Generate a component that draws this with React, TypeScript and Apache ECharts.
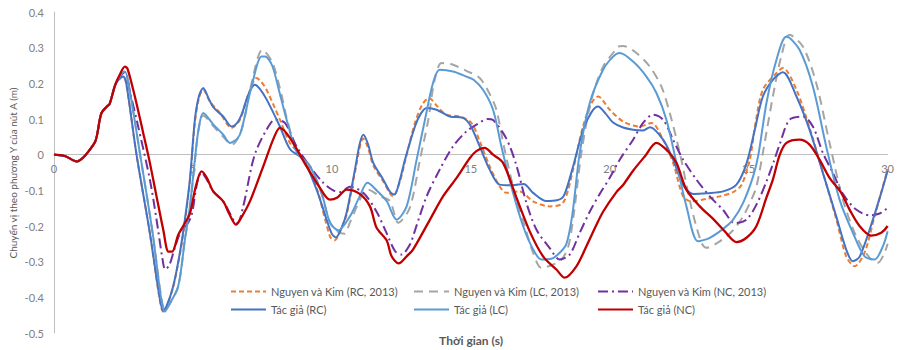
import React, { useEffect, useRef } from "react";
import * as echarts from "echarts";

const seriesNames = [
  "Nguyen và Kim (RC, 2013)",
  "Nguyen và Kim (LC, 2013)",
  "Nguyen và Kim (NC, 2013)",
  "Tác giả (RC)",
  "Tác giả (LC)",
  "Tác giả (NC)",
];

const xTicks = [0, 5, 10, 15, 20, 25, 30];
const yTicks = [-0.5, -0.4, -0.3, -0.2, -0.1, 0, 0.1, 0.2, 0.3, 0.4];

// common start (all curves coincide)
const common: number[][] = [
  [0, 0], [0.4, -0.004], [0.82, -0.019], [1.05, -0.008], [1.25, 0.01], [1.5, 0.04],
  [1.7, 0.115], [1.9, 0.135], [2.0, 0.142], [2.2, 0.195],
];

const nkRC: number[][] = [
  ...common,
  [2.35, 0.212], [2.49, 0.22], [2.6, 0.2], [2.97, 0.0], [3.45, -0.22], [3.8, -0.405], [3.93, -0.44],
  [4.05, -0.428], [4.29, -0.37], [4.53, -0.28], [4.71, -0.19], [4.89, -0.075], [5.07, 0.09], [5.22, 0.16],
  [5.37, 0.182], [5.61, 0.149], [5.97, 0.117], [6.39, 0.075], [6.69, 0.098], [7.0, 0.17], [7.29, 0.215],
  [7.45, 0.205], [7.65, 0.182], [8.13, 0.098], [8.49, 0.033], [8.97, -0.01], [9.45, -0.093], [9.93, -0.229],
  [10.1, -0.24], [10.3, -0.215], [10.53, -0.168], [10.83, -0.05], [11.13, 0.045], [11.3, 0.02], [11.49, -0.03],
  [11.85, -0.075], [12.2, -0.117], [12.45, -0.075], [12.63, -0.02], [12.99, 0.089], [13.25, 0.14], [13.5, 0.159],
  [13.8, 0.135], [14.12, 0.112], [14.6, 0.107], [15.02, 0.089], [15.32, 0.038], [15.68, -0.033], [16.04, -0.089],
  [16.28, -0.107], [16.76, -0.103], [17.24, -0.131], [17.84, -0.145], [18.32, -0.135], [18.68, -0.042],
  [19.04, 0.08], [19.35, 0.145], [19.58, 0.163], [20.0, 0.126], [20.48, 0.093], [21.08, 0.079], [21.5, 0.089],
  [21.92, 0.042], [22.28, -0.023], [22.64, -0.117], [22.93, -0.131], [23.48, -0.124], [23.96, -0.117],
  [24.44, -0.105], [24.74, -0.085], [25.04, -0.014], [25.25, 0.09], [25.51, 0.182], [26.0, 0.229], [26.23, 0.243],
  [26.72, 0.182], [27.19, 0.075], [27.67, -0.05], [28.15, -0.18], [28.51, -0.285], [28.81, -0.313],
  [29.17, -0.275], [29.53, -0.173], [29.83, -0.089], [30, -0.04],
];

const nkLC: number[][] = [
  ...common,
  [2.35, 0.218], [2.55, 0.233], [2.7, 0.19], [3.1, 0.0], [3.55, -0.22], [3.85, -0.395], [3.99, -0.435],
  [4.15, -0.42], [4.47, -0.37], [4.71, -0.24], [4.89, -0.15], [5.07, -0.02], [5.2, 0.07], [5.37, 0.11],
  [5.73, 0.08], [6.09, 0.05], [6.4, 0.028], [6.75, 0.07], [7.11, 0.2], [7.5, 0.294], [7.85, 0.26],
  [8.15, 0.18], [8.4, 0.095], [8.75, 0.01], [9.2, -0.03], [9.63, -0.11], [9.93, -0.19], [10.2, -0.215],
  [10.45, -0.222], [10.65, -0.19], [11.13, -0.107], [11.3, -0.098], [11.73, -0.117], [12.09, -0.13],
  [12.39, -0.191], [12.8, -0.15], [13.17, -0.014], [13.47, 0.098], [13.7, 0.21], [13.95, 0.257], [14.36, 0.252],
  [14.84, 0.235], [15.32, 0.215], [15.68, 0.17], [15.92, 0.126], [16.2, 0.02], [16.58, -0.107], [16.94, -0.2],
  [17.24, -0.275], [17.54, -0.317], [17.9, -0.31], [18.26, -0.294], [18.5, -0.26], [18.7, -0.17], [18.98, 0.005],
  [19.34, 0.154], [19.76, 0.247], [20.12, 0.285], [20.3, 0.303], [20.48, 0.305], [20.96, 0.285], [21.44, 0.247],
  [21.86, 0.191], [22.16, 0.117], [22.52, 0.005], [22.93, -0.145], [23.3, -0.247], [23.48, -0.261],
  [23.96, -0.243], [24.44, -0.212], [24.8, -0.173], [25.1, -0.126], [25.28, -0.089], [25.51, 0.005],
  [25.87, 0.163], [26.17, 0.275], [26.47, 0.336], [26.95, 0.303], [27.43, 0.201], [27.91, 0.033],
  [28.39, -0.126], [28.87, -0.229], [29.35, -0.289], [29.65, -0.303], [29.89, -0.275], [30, -0.25],
];

const nkNC: number[][] = [
  ...common,
  [2.35, 0.218], [2.55, 0.232], [2.75, 0.17], [3.0, 0.089], [3.45, -0.07], [3.69, -0.182], [3.9, -0.29],
  [4.0, -0.322], [4.15, -0.31], [4.35, -0.26], [4.59, -0.21], [4.75, -0.2], [4.95, -0.17], [5.15, -0.08],
  [5.31, -0.05], [5.5, -0.07], [5.73, -0.103], [6.09, -0.131], [6.51, -0.19], [6.6, -0.192], [6.81, -0.145],
  [7.11, -0.033], [7.29, 0.014], [7.65, 0.07], [7.95, 0.098], [8.31, 0.089], [8.73, 0.023], [9.21, -0.033],
  [9.69, -0.079], [10.05, -0.1], [10.3, -0.105], [10.65, -0.09], [11.13, -0.107], [11.61, -0.16],
  [11.97, -0.22], [12.27, -0.27], [12.5, -0.28], [12.81, -0.252], [13.0, -0.21], [13.41, -0.117],
  [13.88, -0.042], [14.36, 0.023], [14.84, 0.065], [15.2, 0.084], [15.6, 0.1], [15.8, 0.097], [16.28, 0.045],
  [16.64, -0.03], [17.0, -0.135], [17.36, -0.21], [17.84, -0.262], [18.2, -0.294], [18.56, -0.28],
  [18.92, -0.219], [19.28, -0.16], [19.64, -0.11], [20.0, -0.065], [20.36, -0.014], [20.84, 0.042],
  [21.2, 0.089], [21.56, 0.112], [21.92, 0.098], [22.28, 0.042], [22.64, -0.014], [23.12, -0.07],
  [23.6, -0.117], [24.08, -0.155], [24.5, -0.192], [24.92, -0.182], [25.28, -0.14], [25.64, -0.075],
  [25.9, -0.02], [26.12, 0.03], [26.47, 0.098], [26.95, 0.107], [27.31, 0.079], [27.67, 0.005],
  [28.03, -0.051], [28.39, -0.11], [28.87, -0.154], [29.35, -0.17], [29.71, -0.165], [30, -0.149],
];

const tgRC: number[][] = [
  ...common,
  [2.35, 0.212], [2.49, 0.219], [2.6, 0.2], [2.97, 0.0], [3.45, -0.22], [3.8, -0.4], [3.93, -0.438],
  [4.05, -0.425], [4.29, -0.369], [4.53, -0.275], [4.71, -0.182], [4.89, -0.07], [5.07, 0.098], [5.22, 0.165],
  [5.37, 0.187], [5.55, 0.16], [5.73, 0.133], [6.09, 0.107], [6.39, 0.079], [6.6, 0.09], [6.75, 0.112],
  [7.0, 0.17], [7.23, 0.196], [7.4, 0.185], [7.65, 0.155], [8.13, 0.079], [8.49, 0.016], [8.97, -0.014],
  [9.45, -0.098], [9.81, -0.182], [10.0, -0.222], [10.15, -0.232], [10.35, -0.205], [10.53, -0.163],
  [10.83, -0.042], [11.0, 0.03], [11.13, 0.056], [11.3, 0.03], [11.49, -0.023], [11.85, -0.07], [12.1, -0.105],
  [12.25, -0.112], [12.45, -0.07], [12.63, -0.014], [12.99, 0.079], [13.2, 0.115], [13.41, 0.131],
  [13.77, 0.126], [14.24, 0.107], [14.72, 0.103], [15.0, 0.08], [15.32, 0.023], [15.68, -0.042],
  [16.04, -0.084], [16.5, -0.086], [16.9, -0.082], [17.24, -0.107], [17.72, -0.13], [18.1, -0.128],
  [18.35, -0.115], [18.68, -0.033], [19.04, 0.07], [19.35, 0.12], [19.58, 0.135], [19.85, 0.115],
  [20.12, 0.09], [20.48, 0.076], [20.84, 0.07], [21.2, 0.068], [21.45, 0.077], [21.92, 0.042], [22.28, -0.014],
  [22.64, -0.085], [23.0, -0.11], [23.5, -0.108], [24.08, -0.103], [24.56, -0.084], [24.92, -0.025],
  [25.22, 0.07], [25.51, 0.163], [25.87, 0.21], [26.23, 0.231], [26.72, 0.163], [27.19, 0.07], [27.67, -0.051],
  [28.15, -0.173], [28.51, -0.266], [28.75, -0.299], [29.0, -0.285], [29.47, -0.182], [29.77, -0.107],
  [30, -0.045],
];

const tgLC: number[][] = [
  ...common,
  [2.35, 0.218], [2.55, 0.233], [2.7, 0.19], [3.1, 0.0], [3.55, -0.22], [3.85, -0.4], [3.99, -0.44],
  [4.15, -0.42], [4.47, -0.369], [4.71, -0.238], [4.89, -0.145], [5.07, -0.014], [5.2, 0.07], [5.37, 0.117],
  [5.73, 0.085], [6.09, 0.056], [6.33, 0.033], [6.6, 0.045], [6.75, 0.07], [7.11, 0.191], [7.47, 0.275],
  [7.6, 0.275], [7.85, 0.25], [8.13, 0.17], [8.4, 0.09], [8.73, 0.008], [9.21, -0.033], [9.63, -0.107],
  [9.93, -0.19], [10.23, -0.212], [10.65, -0.173], [11.0, -0.117], [11.28, -0.079], [11.61, -0.1],
  [11.97, -0.13], [12.33, -0.182], [12.69, -0.145], [13.05, -0.014], [13.35, 0.098], [13.64, 0.201],
  [13.88, 0.238], [14.36, 0.233], [14.84, 0.219], [15.1, 0.21], [15.44, 0.182], [15.8, 0.126], [16.1, 0.023],
  [16.52, -0.107], [16.88, -0.2], [17.24, -0.265], [17.54, -0.294], [17.9, -0.292], [18.2, -0.275],
  [18.44, -0.25], [18.65, -0.17], [18.92, 0.005], [19.28, 0.145], [19.76, 0.238], [20.12, 0.275],
  [20.36, 0.285], [20.84, 0.261], [21.32, 0.219], [21.68, 0.173], [22.04, 0.098], [22.4, -0.023],
  [22.76, -0.145], [23.18, -0.243], [23.6, -0.233], [24.08, -0.208], [24.44, -0.182], [24.8, -0.135],
  [25.16, -0.061], [25.35, 0.0], [25.64, 0.145], [26.0, 0.266], [26.36, 0.331], [26.83, 0.294],
  [27.31, 0.191], [27.79, 0.023], [28.27, -0.126], [28.75, -0.219], [29.17, -0.285], [29.53, -0.294],
  [29.83, -0.257], [30, -0.215],
];

const tgNC: number[][] = [
  ...common,
  [2.37, 0.225], [2.55, 0.247], [2.65, 0.24], [2.91, 0.163], [3.21, 0.061], [3.45, -0.023], [3.69, -0.117],
  [3.93, -0.21], [4.12, -0.272], [4.25, -0.272], [4.47, -0.225], [4.65, -0.2], [4.89, -0.165], [5.1, -0.09],
  [5.31, -0.047], [5.5, -0.065], [5.73, -0.103], [6.09, -0.131], [6.3, -0.165], [6.55, -0.196], [6.75, -0.175],
  [7.05, -0.131], [7.53, -0.033], [7.9, 0.045], [8.13, 0.075], [8.49, 0.047], [9.09, -0.033], [9.57, -0.093],
  [9.93, -0.126], [10.2, -0.12], [10.53, -0.098], [11.0, -0.11], [11.37, -0.145], [11.61, -0.205],
  [11.97, -0.24], [12.15, -0.285], [12.4, -0.305], [12.69, -0.285], [12.92, -0.266], [13.53, -0.182],
  [14.0, -0.117], [14.49, -0.065], [14.96, -0.01], [15.2, 0.01], [15.5, 0.019], [15.8, 0.0], [16.16, -0.023],
  [16.64, -0.12], [17.12, -0.215], [17.6, -0.285], [18.08, -0.322], [18.38, -0.345], [18.8, -0.313],
  [19.16, -0.257], [19.5, -0.2], [19.76, -0.16], [20.24, -0.105], [20.48, -0.085], [20.84, -0.045],
  [21.26, -0.005], [21.68, 0.033], [22.1, 0.009], [22.4, -0.023], [22.76, -0.098], [23.24, -0.145],
  [23.72, -0.18], [24.14, -0.215], [24.56, -0.245], [24.92, -0.233], [25.28, -0.2], [25.64, -0.12],
  [25.87, -0.07], [26.12, 0.0], [26.36, 0.033], [26.83, 0.042], [27.19, 0.028], [27.55, -0.014],
  [27.91, -0.065], [28.33, -0.107], [28.63, -0.154], [28.99, -0.2], [29.41, -0.227], [29.77, -0.219],
  [30, -0.2],
];

const seriesData = [nkRC, nkLC, nkNC, tgRC, tgLC, tgNC];
const colors = ["#ED7D31", "#A5A5A5", "#7030A0", "#4472C4", "#5B9BD5", "#C00000"];
const lineTypes: any[] = [[5, 3], [9, 6], [10, 4, 2, 4], "solid", "solid", "solid"];
const lineWidths = [2, 2, 2, 2, 2, 2.3];

const FONT = "Lato, 'Liberation Sans', sans-serif";

const GRID_TOP = 12;
const GRID_BOTTOM = 17;
const CHART_H = 350;

export default function App() {
  const ref = useRef<HTMLDivElement>(null);
  useEffect(() => {
    if (!ref.current) return;
    const chart = echarts.init(ref.current, null, { renderer: "svg" });
    const legendLeft = [230, 413, 597];
    const legendTop = [286, 304];
    const yMin = yTicks[0];
    const yMax = yTicks[yTicks.length - 1];
    const gridH = CHART_H - GRID_TOP - GRID_BOTTOM;
    // distance from bottom edge of grid up to the value 0
    const zeroOffset = (gridH * (0 - yMin)) / (yMax - yMin);
    chart.setOption({
      animation: false,
      backgroundColor: "#ffffff",
      grid: { left: 54, right: 9, top: GRID_TOP, bottom: GRID_BOTTOM, containLabel: false },
      xAxis: {
        type: "value",
        min: xTicks[0],
        max: xTicks[xTicks.length - 1],
        interval: 5,
        offset: -zeroOffset,
        axisLine: { onZero: false, lineStyle: { color: "#bfbfbf", width: 1 } },
        axisTick: { show: false },
        splitLine: { show: false },
        axisLabel: { color: "#808080", fontSize: 11, fontFamily: FONT, margin: 8 },
      },
      yAxis: {
        type: "value",
        min: yMin,
        max: yMax,
        interval: 0.1,
        axisLine: { show: true, onZero: false, lineStyle: { color: "#bfbfbf", width: 1 } },
        axisTick: { show: false },
        splitLine: { show: false },
        axisLabel: {
          color: "#808080",
          fontSize: 11,
          fontFamily: FONT,
          margin: 10,
          formatter: (v: number) => String(Number(v.toFixed(1))),
        },
      },
      legend: seriesNames.map((n, i) => ({
        data: [n],
        left: legendLeft[i % 3],
        top: legendTop[Math.floor(i / 3)],
        itemWidth: 35,
        itemHeight: 12,
        padding: 0,
        selectedMode: false,
        itemStyle: { opacity: 0, borderWidth: 0 },
        lineStyle: { opacity: 1 },
        textStyle: { color: "#595959", fontSize: 11, fontFamily: FONT },
      })),
      series: seriesNames.map((n, i) => ({
        name: n,
        type: "line",
        data: seriesData[i],
        symbol: "none",
        smooth: 0.3,
        color: colors[i],
        lineStyle: { color: colors[i], width: lineWidths[i], type: lineTypes[i] },
        z: 2 + i,
      })),
      graphic: [
        {
          type: "text",
          x: 13,
          y: 173,
          rotation: Math.PI / 2,
          style: {
            text: "Chuyển vị theo phương Y của nút A (m)",
            fill: "#595959",
            fontSize: 10,
            fontFamily: FONT,
            align: "center",
            verticalAlign: "middle",
            textAlign: "center",
            textVerticalAlign: "middle",
          },
        },
        {
          type: "text",
          x: 471,
          y: 340,
          style: {
            text: "Thời gian (s)",
            fill: "#595959",
            fontSize: 12,
            fontWeight: "bold",
            fontFamily: FONT,
            align: "center",
            verticalAlign: "middle",
            textAlign: "center",
            textVerticalAlign: "middle",
          },
        },
      ],
    });
    return () => chart.dispose();
  }, []);
  return (
    <div
      ref={ref}
      style={{ position: "fixed", left: 0, top: 0, width: 897, height: 350, background: "#fff" }}
    />
  );
}
